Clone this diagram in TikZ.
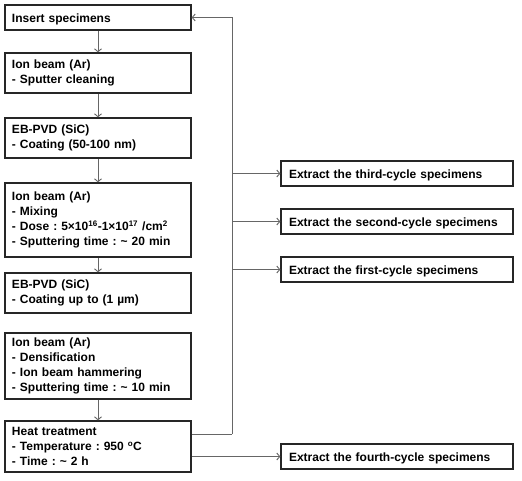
\documentclass[tikz,border=0pt]{standalone}
\usepackage{fontspec}
\setmainfont{Liberation Sans}
\usetikzlibrary{arrows.meta}
\frenchspacing
\begin{document}
\begin{tikzpicture}[x=1pt,y=-1pt,
  lbox/.style={draw=black!85, line width=1.3pt, rectangle, inner xsep=7pt, inner ysep=0pt,
    text width=172pt, align=left, font=\bfseries\fontsize{12}{15}\selectfont},
  rbox/.style={draw=black!85, line width=1.3pt, rectangle, inner xsep=8pt, inner ysep=0pt,
    text width=216pt, align=left, minimum height=25pt, text height=9pt, text depth=0pt,
    font=\bfseries\fontsize{12}{15}\selectfont},
  conn/.style={draw=black!60, line width=0.9pt, -{Straight Barb[length=3pt,width=7pt]}},
  line/.style={draw=black!60, line width=0.9pt}]
\useasboundingbox (0,0) rectangle (522,480);
\fill[white] (0,0) rectangle (522,480);

\node[lbox, minimum height=25pt, text height=9.5pt, text depth=0pt] (b1) at (98,17.5) {Insert specimens};
\node[lbox, minimum height=40pt] (b2) at (98,73) {Ion beam (Ar)\\- Sputter cleaning};
\node[lbox, minimum height=40pt] (b3) at (98,138) {EB-PVD (SiC)\\- Coating (50-100 nm)};
\node[lbox, minimum height=74pt] (b4) at (98,220) {Ion beam (Ar)\\- Mixing\\- Dose : 5×10\textsuperscript{16}-1×10\textsuperscript{17} /cm\textsuperscript{2}\\- Sputtering time : \textasciitilde{} 20 min};
\node[lbox, minimum height=40pt] (b5) at (98,293) {EB-PVD (SiC)\\- Coating up to (1 µm)};
\node[lbox, minimum height=66pt] (b6) at (98,366) {Ion beam (Ar)\\- Densification\\- Ion beam hammering\\- Sputtering time : \textasciitilde{} 10 min};
\node[lbox, minimum height=51pt] (b7) at (98,446.5) {Heat treatment\\- Temperature : 950 \textsuperscript{o}C\\- Time : \textasciitilde{} 2 h};

\node[rbox] (r3) at (397,173.5) {Extract the third-cycle specimens};
\node[rbox] (r2) at (397,221.5) {Extract the second-cycle specimens};
\node[rbox] (r1) at (397,269.5) {Extract the first-cycle specimens};
\node[rbox] (r4) at (397,456.5) {Extract the fourth-cycle specimens};

\draw[conn] (b1) -- (b2);
\draw[conn] (b2) -- (b3);
\draw[conn] (b3) -- (b4);
\draw[conn] (b4) -- (b5);
\draw[conn] (b6) -- (b7);

\coordinate (loop) at (232,434);
\draw[line] (b7.east |- loop) -- (loop);
\draw[conn] (loop) |- (b1.east);
\draw[conn] (r3.west -| loop) -- (r3.west);
\draw[conn] (r2.west -| loop) -- (r2.west);
\draw[conn] (r1.west -| loop) -- (r1.west);
\draw[conn] (r4.west -| b7.east) -- (r4.west);
\end{tikzpicture}
\end{document}
